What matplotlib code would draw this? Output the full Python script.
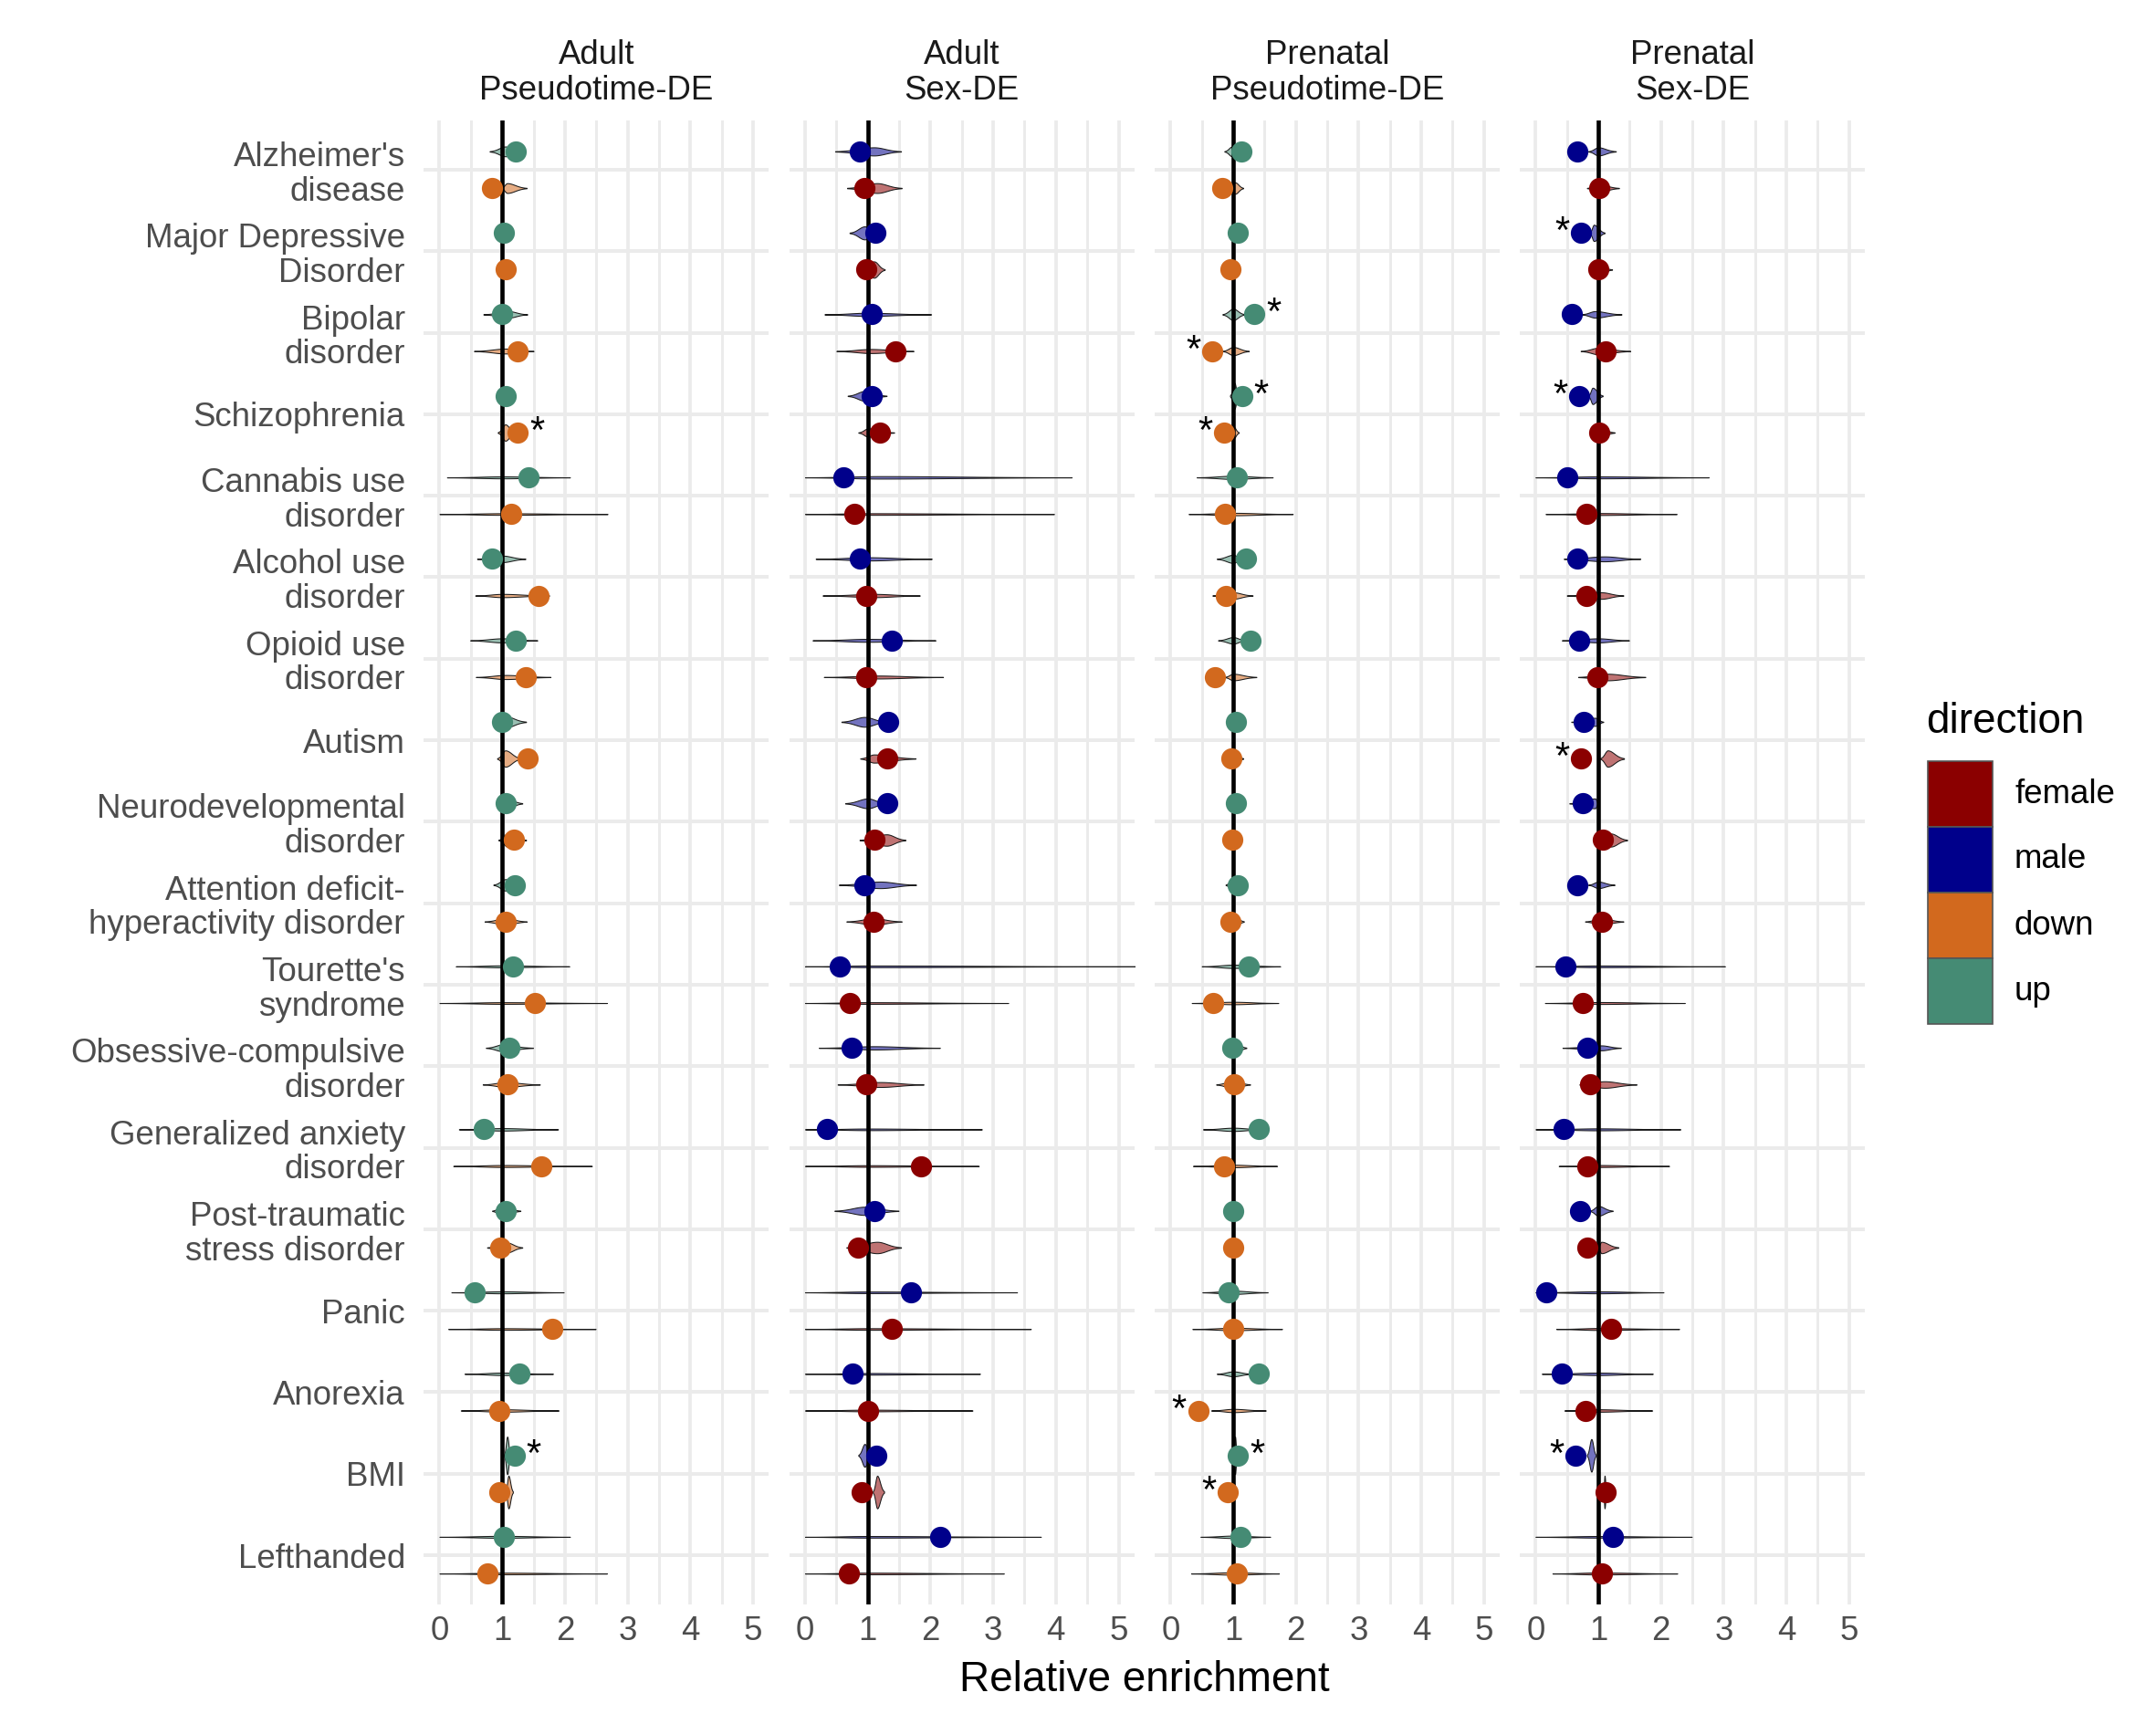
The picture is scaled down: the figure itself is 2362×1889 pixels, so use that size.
import numpy as np
import matplotlib
matplotlib.use("Agg")
import matplotlib.pyplot as plt
from matplotlib.colors import to_rgba
from matplotlib.patches import Rectangle

plt.rcParams["font.family"] = ["Liberation Sans", "DejaVu Sans"]

disorders = [
    "Alzheimer's\ndisease", "Major Depressive\nDisorder", "Bipolar\ndisorder",
    "Schizophrenia", "Cannabis use\ndisorder", "Alcohol use\ndisorder",
    "Opioid use\ndisorder", "Autism", "Neurodevelopmental\ndisorder",
    "Attention deficit-\nhyperactivity disorder", "Tourette's\nsyndrome",
    "Obsessive-compulsive\ndisorder", "Generalized anxiety\ndisorder",
    "Post-traumatic\nstress disorder", "Panic", "Anorexia", "BMI", "Lefthanded",
]

facet_titles = ["Adult\nPseudotime-DE", "Adult\nSex-DE",
                "Prenatal\nPseudotime-DE", "Prenatal\nSex-DE"]
facet_groups = [("up", "down"), ("male", "female"),
                ("up", "down"), ("male", "female")]

colors = {"female": "#8B0000", "male": "#00008B",
          "down": "#D2691E", "up": "#458B74"}
legend_order = ["female", "male", "down", "up"]

# observed relative enrichment, one value per disorder
adult_pt_up = [1.22, 1.03, 1.00, 1.06, 1.42, 0.83, 1.22, 1.00, 1.05,
               1.20, 1.17, 1.12, 0.70, 1.06, 0.56, 1.28, 1.20, 1.03]
adult_pt_down = [0.84, 1.06, 1.24, 1.25, 1.15, 1.58, 1.38, 1.40, 1.18,
                 1.05, 1.52, 1.09, 1.62, 0.97, 1.80, 0.95, 0.95, 0.76]
adult_sex_male = [0.88, 1.12, 1.07, 1.07, 0.61, 0.87, 1.39, 1.33, 1.31,
                  0.95, 0.55, 0.74, 0.35, 1.11, 1.69, 0.76, 1.13, 2.15]
adult_sex_female = [0.94, 0.98, 1.44, 1.20, 0.79, 0.97, 0.98, 1.31, 1.11,
                    1.09, 0.72, 0.97, 1.85, 0.85, 1.38, 1.00, 0.90, 0.70]
pren_pt_up = [1.13, 1.07, 1.34, 1.15, 1.06, 1.20, 1.28, 1.05, 1.05,
              1.08, 1.25, 0.99, 1.41, 1.00, 0.93, 1.41, 1.08, 1.11]
pren_pt_down = [0.82, 0.95, 0.66, 0.85, 0.87, 0.89, 0.71, 0.97, 0.99,
                0.95, 0.68, 1.02, 0.85, 1.00, 1.00, 0.44, 0.92, 1.06]
pren_sex_male = [0.67, 0.73, 0.58, 0.69, 0.50, 0.67, 0.70, 0.77, 0.75,
                 0.66, 0.47, 0.82, 0.44, 0.71, 0.17, 0.42, 0.63, 1.24]
pren_sex_female = [1.02, 1.00, 1.11, 1.01, 0.81, 0.81, 0.98, 0.72, 1.07,
                   1.06, 0.75, 0.87, 0.83, 0.82, 1.20, 0.80, 1.11, 1.06]

# null (permutation) distributions: (min, mode, max, relative peak density)
adult_pt_up_null = [
    (0.80, 1.05, 1.30, .06), (0.90, 1.02, 1.15, .10), (0.70, 1.10, 1.40, .04),
    (0.90, 1.05, 1.18, .08), (0.12, 1.00, 2.08, .012), (0.60, 1.00, 1.37, .04),
    (0.49, 1.00, 1.56, .025), (0.90, 1.05, 1.38, .07), (0.92, 1.05, 1.32, .07),
    (0.86, 1.05, 1.30, .07), (0.26, 1.00, 2.07, .012), (0.74, 1.00, 1.49, .04),
    (0.31, 1.00, 1.89, .015), (0.84, 1.00, 1.29, .06), (0.19, 1.00, 1.98, .012),
    (0.40, 1.00, 1.81, .015), (1.03, 1.08, 1.13, .23), (0.00, 1.00, 2.08, .012)]
adult_pt_down_null = [
    (0.98, 1.08, 1.39, .06), (0.92, 1.03, 1.15, .10), (0.55, 1.05, 1.50, .03),
    (0.93, 1.05, 1.20, .10), (0.00, 1.00, 2.68, .010), (0.57, 1.00, 1.75, .02),
    (0.58, 1.05, 1.77, .025), (0.92, 1.05, 1.30, .10), (0.94, 1.08, 1.38, .08),
    (0.72, 1.05, 1.39, .04), (0.00, 1.00, 2.67, .010), (0.69, 1.05, 1.60, .03),
    (0.22, 1.00, 2.43, .012), (0.76, 1.08, 1.32, .06), (0.14, 1.00, 2.49, .010),
    (0.34, 1.00, 1.90, .015), (1.05, 1.10, 1.17, .20), (0.00, 1.00, 2.67, .010)]
adult_sex_male_null = [
    (0.48, 1.10, 1.53, .05), (0.71, 0.95, 1.20, .08), (0.31, 1.00, 2.01, .02),
    (0.68, 0.95, 1.30, .06), (0.00, 1.20, 4.25, .015), (0.17, 1.00, 2.02, .02),
    (0.12, 1.00, 2.08, .018), (0.58, 0.95, 1.30, .06), (0.64, 1.00, 1.30, .06),
    (0.54, 1.20, 1.77, .04), (0.00, 1.00, 5.30, .010), (0.22, 1.10, 2.15, .02),
    (0.00, 1.00, 2.82, .010), (0.47, 0.95, 1.49, .05), (0.00, 1.00, 3.38, .010),
    (0.00, 1.00, 2.79, .010), (0.85, 0.95, 1.05, .14), (0.00, 1.00, 3.76, .010)]
adult_sex_female_null = [
    (0.67, 1.15, 1.54, .06), (0.85, 1.10, 1.27, .10), (0.50, 1.05, 1.73, .025),
    (0.85, 1.00, 1.42, .05), (0.00, 1.00, 3.97, .010), (0.28, 1.10, 1.83, .02),
    (0.30, 1.15, 2.20, .018), (0.88, 1.10, 1.76, .05), (0.87, 1.30, 1.60, .07),
    (0.66, 1.10, 1.54, .04), (0.00, 1.00, 3.24, .010), (0.52, 1.20, 1.89, .03),
    (0.00, 1.00, 2.77, .010), (0.66, 1.15, 1.53, .07), (0.00, 1.00, 3.60, .010),
    (0.00, 1.00, 2.67, .010), (1.08, 1.15, 1.26, .20), (0.00, 1.00, 3.17, .010)]
pren_pt_up_null = [
    (0.86, 0.98, 1.10, .06), (0.95, 1.00, 1.08, .10), (0.83, 1.00, 1.18, .07),
    (0.95, 1.02, 1.08, .16), (0.42, 1.00, 1.63, .02), (0.74, 1.00, 1.15, .05),
    (0.76, 1.00, 1.20, .04), (0.93, 1.00, 1.08, .10), (0.93, 1.00, 1.08, .10),
    (0.88, 1.00, 1.12, .08), (0.50, 1.00, 1.75, .02), (0.90, 1.00, 1.21, .08),
    (0.52, 1.00, 1.50, .02), (0.92, 1.00, 1.08, .10), (0.51, 1.00, 1.55, .02),
    (0.74, 1.00, 1.30, .03), (1.00, 1.03, 1.06, .23), (0.48, 1.00, 1.59, .015)]
pren_pt_down_null = [
    (0.96, 1.03, 1.16, .07), (0.92, 1.00, 1.06, .10), (0.83, 1.00, 1.25, .05),
    (0.91, 1.00, 1.09, .08), (0.29, 1.00, 1.95, .015), (0.67, 1.00, 1.31, .04),
    (0.86, 1.00, 1.37, .04), (0.90, 1.00, 1.16, .09), (0.92, 1.00, 1.08, .10),
    (0.90, 1.00, 1.17, .08), (0.34, 1.00, 1.72, .015), (0.73, 1.00, 1.27, .05),
    (0.36, 1.00, 1.70, .015), (0.92, 1.00, 1.08, .10), (0.35, 1.00, 1.78, .015),
    (0.65, 1.00, 1.52, .02), (0.98, 1.00, 1.05, .15), (0.33, 1.00, 1.73, .015)]
pren_sex_male_null = [
    (0.84, 1.00, 1.28, .05), (0.86, 0.93, 1.10, .10), (0.73, 0.95, 1.37, .04),
    (0.84, 0.91, 1.07, .10), (0.00, 1.00, 2.76, .012), (0.45, 1.10, 1.67, .03),
    (0.42, 1.00, 1.49, .025), (0.57, 0.95, 1.08, .05), (0.54, 0.95, 1.00, .06),
    (0.84, 1.00, 1.26, .04), (0.00, 1.00, 3.02, .010), (0.43, 1.05, 1.36, .03),
    (0.00, 1.00, 2.31, .012), (0.86, 1.00, 1.23, .06), (0.00, 1.00, 2.04, .012),
    (0.10, 1.00, 1.87, .015), (0.82, 0.89, 0.96, .20), (0.00, 1.00, 2.49, .010)]
pren_sex_female_null = [
    (0.82, 1.00, 1.33, .05), (0.90, 1.00, 1.22, .06), (0.72, 1.00, 1.51, .04),
    (0.90, 1.00, 1.26, .06), (0.16, 1.00, 2.25, .012), (0.50, 1.05, 1.40, .04),
    (0.68, 1.15, 1.75, .04), (1.03, 1.15, 1.41, .10), (0.95, 1.20, 1.46, .08),
    (0.79, 1.05, 1.40, .04), (0.15, 1.00, 2.38, .012), (0.70, 1.10, 1.61, .04),
    (0.37, 1.00, 2.13, .012), (0.99, 1.05, 1.32, .07), (0.33, 1.00, 2.29, .012),
    (0.46, 1.00, 1.86, .015), (1.08, 1.10, 1.13, .20), (0.27, 1.00, 2.26, .012)]

# disorders marked significant (*)
adult_pt_up_sig = ["BMI"]
adult_pt_down_sig = ["Schizophrenia"]
adult_sex_male_sig = []
adult_sex_female_sig = []
pren_pt_up_sig = ["Bipolar\ndisorder", "Schizophrenia", "BMI"]
pren_pt_down_sig = ["Bipolar\ndisorder", "Schizophrenia", "Anorexia", "BMI"]
pren_sex_male_sig = ["Major Depressive\nDisorder", "Schizophrenia", "BMI"]
pren_sex_female_sig = ["Autism"]

facet_data = [
    ((adult_pt_up, adult_pt_up_null, adult_pt_up_sig),
     (adult_pt_down, adult_pt_down_null, adult_pt_down_sig)),
    ((adult_sex_male, adult_sex_male_null, adult_sex_male_sig),
     (adult_sex_female, adult_sex_female_null, adult_sex_female_sig)),
    ((pren_pt_up, pren_pt_up_null, pren_pt_up_sig),
     (pren_pt_down, pren_pt_down_null, pren_pt_down_sig)),
    ((pren_sex_male, pren_sex_male_null, pren_sex_male_sig),
     (pren_sex_female, pren_sex_female_null, pren_sex_female_sig)),
]


def draw_violin(ax, y, lo, mode, hi, peak, color):
    t = np.linspace(lo, hi, 300)
    sl = max(mode - lo, 1e-3) / 2.5
    sr = max(hi - mode, 1e-3) / 2.5
    z = np.where(t < mode, (t - mode) / sl, (t - mode) / sr)
    half = peak * np.exp(-0.5 * z ** 2)
    ax.fill_between(t, y - half, y + half, facecolor=to_rgba(color, 0.55),
                    edgecolor="#1A1A1A", linewidth=0.25, zorder=2)


W, H = 2362, 1889
fig = plt.figure(figsize=(W / 300, H / 300), dpi=300)

panel_lefts = [464.3, 864.8, 1265.1, 1665.1]
panel_top, panel_w, panel_h = 132.4, 377.9, 1625.2
dodge = 0.225
grid_col = "#EBEBEB"
n = len(disorders)

for k, left in enumerate(panel_lefts):
    ax = fig.add_axes([left / W, 1 - (panel_top + panel_h) / H, panel_w / W, panel_h / H])
    ax.set_xlim(-0.25, 5.25)
    ax.set_ylim(n - 1 + 0.6, -0.6)
    for s in ax.spines.values():
        s.set_visible(False)

    for xv in np.arange(0, 5.01, 0.5):
        ax.axvline(xv, color=grid_col, lw=0.9 if xv % 1 == 0 else 0.7, zorder=0)
    for yv in range(n):
        ax.axhline(yv, color=grid_col, lw=0.95, zorder=0)

    for (vals, nulls, sig), off, grp in zip(facet_data[k], (-dodge, dodge), facet_groups[k]):
        col = colors[grp]
        ys = np.arange(n) + off
        for yy, (lo, mode, hi, pk) in zip(ys, nulls):
            draw_violin(ax, yy, lo, mode, hi, pk, col)
        ax.scatter(vals, ys, s=31, color=col, linewidths=0, zorder=4)
        for name in sig:
            i = disorders.index(name)
            v = vals[i]
            sx = v + 0.3 if v > 1 else v - 0.3
            ax.text(sx, ys[i], "*", fontsize=10, ha="center", va="center",
                    color="black", zorder=5)

    ax.axvline(1, color="black", lw=1.1, zorder=3)

    ax.set_xticks(range(6))
    ax.tick_params(axis="x", length=0, pad=3, labelsize=8.8, labelcolor="#4D4D4D")
    if k == 0:
        ax.set_yticks(range(n))
        ax.set_yticklabels(disorders, linespacing=1.1)
        ax.tick_params(axis="y", length=0, pad=4.9, labelsize=8.8, labelcolor="#4D4D4D")
    else:
        ax.set_yticks([])

    fig.text((left + panel_w / 2) / W, 1 - 80 / H, facet_titles[k], ha="center",
             va="center", fontsize=8.8, color="#1A1A1A", linespacing=1.12)

fig.text(1254 / W, 1 - 1841 / H, "Relative enrichment", ha="center", va="center",
         fontsize=11, color="black")

# legend
fig.text(2110 / W, 1 - 791 / H, "direction", ha="left", va="center",
         fontsize=11, color="black")
key_top, key_h = 834, 72
for i, name in enumerate(legend_order):
    y0 = key_top + key_h * i
    fig.add_artist(Rectangle((2112 / W, 1 - (y0 + key_h) / H), 71 / W, key_h / H,
                             transform=fig.transFigure, facecolor=colors[name],
                             edgecolor="#555555", linewidth=0.4))
    fig.text(2207 / W, 1 - (y0 + key_h / 2) / H, name, ha="left", va="center",
             fontsize=8.8, color="black")

fig.savefig("out.png", dpi=300, facecolor="white")
